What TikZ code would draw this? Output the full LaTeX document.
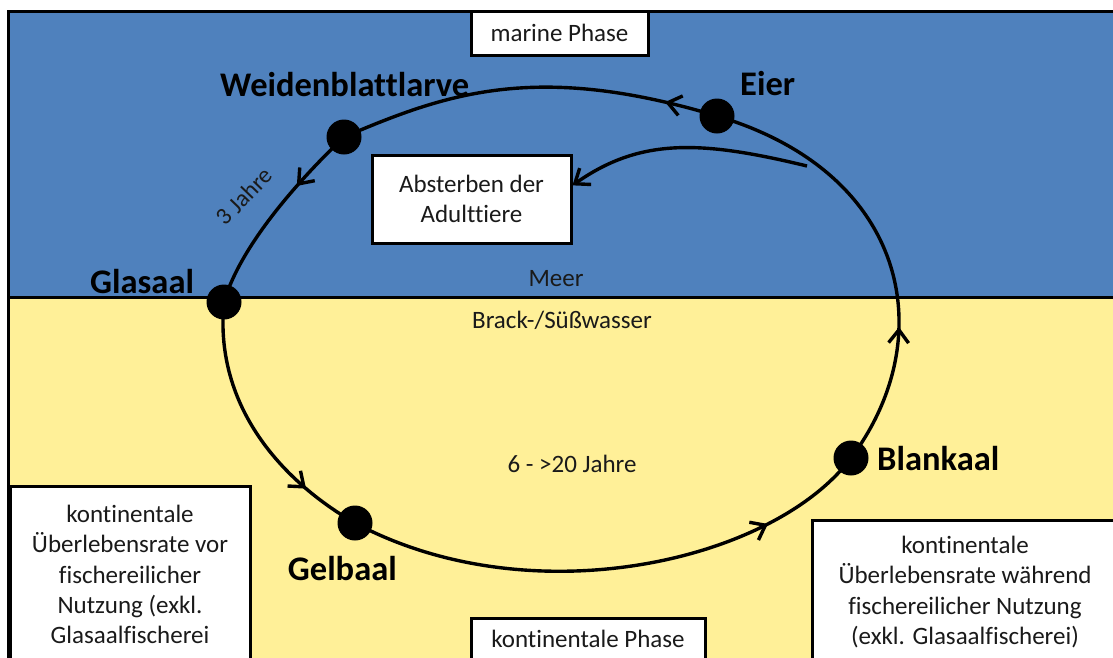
\documentclass[tikz,border=0pt]{standalone}
\usepackage{fontspec}
\setmainfont{Carlito}[Ligatures=NoCommon]
\usetikzlibrary{arrows.meta,decorations.markings,calc}
\definecolor{seablue}{HTML}{4F81BD}
\definecolor{freshyellow}{RGB}{255,240,152}
\definecolor{txt}{HTML}{1A1A1A}
\begin{document}
\begin{tikzpicture}[x=1pt,y=-1pt,
  lab/.style={font=\fontsize{34.5}{40}\selectfont\bfseries, inner sep=0pt, text=black},
  reg/.style={font=\fontsize{25}{30.3}\selectfont, text=txt, inner sep=0pt, align=center},
  boxline/.style={draw=black, line width=3pt, fill=white},
  dot/.style={circle, fill=black, minimum size=35pt, inner sep=0pt},
  cyc/.style={line width=3.4pt, draw=black},
  tipmark/.style={postaction={decorate, decoration={markings, mark=at position #1 with {\arrow{Straight Barb[length=13pt,width=20pt]}}}}},
]
\useasboundingbox (0,0) rectangle (1113,657);
\clip (0,0) rectangle (1113,657);

% background regions
\fill[seablue] (8,11) rectangle (1120,297);
\fill[freshyellow] (8,297) rectangle (1120,680);
\draw[line width=3pt] (8,690) -- (8,11) -- (1125,11);
\draw[line width=3pt] (8,297) -- (1125,297);

% boxes
\node[boxline, reg, minimum width=177pt, minimum height=44pt] (marine) at (559.5,33) {marine Phase};
\node[boxline, reg, minimum width=199pt, minimum height=88pt] (Abst) at (471.5,199) {Absterben der\\Adulttiere};
\draw[boxline] (10,486) rectangle (250,720);
\node[reg, anchor=north] (leftbox) at (130,505) {kontinentale\\Überlebensrate vor\\fischereilicher\\Nutzung (exkl.\\Glasaalfischerei};
\draw[boxline] (812,520) rectangle (1140,720);
\node[reg, anchor=north] (rightbox) at (965,536) {kontinentale\\Überlebensrate während\\fischereilicher Nutzung\\(exkl. Glasaalfischerei)};
\draw[boxline] (471,618) rectangle (705,720);
\node[reg, anchor=base] (kontphase) at (588,647) {kontinentale Phase};

% region labels
\node[reg, anchor=base] (meer) at (556,286) {Meer};
\node[reg, anchor=base] (brack) at (562,328) {Brack-/Süßwasser};
\node[reg, anchor=base] (years20) at (572,472) {6 - >20 Jahre};
\node[reg, font=\fontsize{24}{28}\selectfont, rotate=46] (years3) at (244,196) {3 Jahre};

% cycle points
\coordinate (E) at (717,116);
\coordinate (W) at (344,137);
\coordinate (G) at (224,302);
\coordinate (Ge) at (355,523);
\coordinate (B) at (851,458);
\coordinate (dieS) at (807,166);

\draw[cyc, tipmark=0.14] (E) .. controls (535,61) and (445,94) .. (W);
\draw[cyc, tipmark=0.33] (W) .. controls (301,178) and (241,244) .. (G);
\draw[cyc, tipmark=0.78] (G) .. controls (214,402) and (277,478) .. (Ge);
\draw[cyc, tipmark=0.8] (Ge) .. controls (531,617) and (773,562) .. (B);
\draw[cyc, tipmark=0.32] (B) .. controls (941,338) and (909,173) .. (E);
\draw[cyc, -{Straight Barb[length=13pt,width=20pt]}] (dieS) .. controls (700,140) and (640,138) .. ($(Abst.north east)!0.35!(Abst.south east)$);

% dots
\node[dot] (Edot) at (E) {};
\node[dot] (Wdot) at (W) {};
\node[dot] (Gdot) at (G) {};
\node[dot] (Gedot) at (Ge) {};
\node[dot] (Bdot) at (B) {};

% stage labels
\node[lab, anchor=base west] (lW) at (220,96) {Weidenblattlarve};
\node[lab, anchor=base west] (lE) at (740,95) {Eier};
\node[lab, anchor=base west] (lG) at (90,293) {Glasaal};
\node[lab, anchor=base east] (lGe) at (397,580) {Gelbaal};
\node[lab, anchor=base west] (lB) at (877,470) {Blankaal};
\end{tikzpicture}
\end{document}
